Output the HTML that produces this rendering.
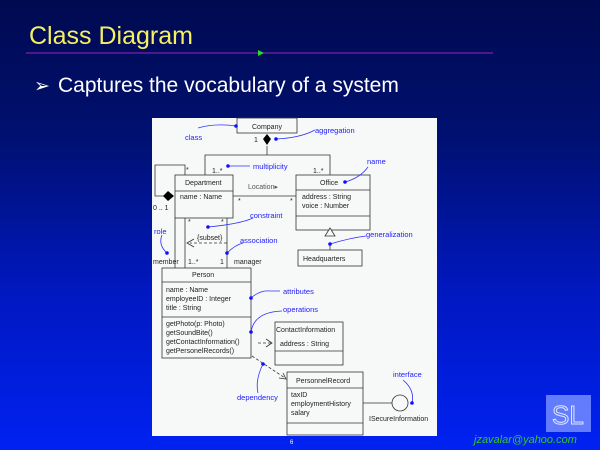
<!DOCTYPE html>
<html><head><meta charset="utf-8"><style>
html,body{margin:0;padding:0;width:600px;height:450px;overflow:hidden}
body{background:linear-gradient(180deg,#000a50 0%,#001070 30%,#0018c0 65%,#0022f2 100%);font-family:"Liberation Sans",sans-serif}
</style></head><body>
<svg width="600" height="450" viewBox="0 0 600 450" xmlns="http://www.w3.org/2000/svg" font-family="Liberation Sans, sans-serif">
<text x="29" y="44" font-size="25" fill="#f6f060">Class Diagram</text>
<line x1="26" y1="53" x2="493" y2="53" stroke="#a020c0" stroke-width="1"/>
<polygon points="258,50 264,53 258,56" fill="#20e020"/>
<text x="34" y="92" font-size="19" fill="#fff">➢</text>
<text x="58" y="92" font-size="21" fill="#fff">Captures the vocabulary of a system</text>
<rect x="152" y="118" width="285" height="318" fill="#f7f8f8"/>
<g stroke="#333" stroke-width="0.8" fill="none">
<rect x="237" y="118" width="60" height="15" fill="#f7f8f8"/>
<line x1="267" y1="146" x2="267" y2="155"/>
<polyline points="205,175 205,155 330,155 330,175"/>
<rect x="175" y="175" width="58" height="43"/>
<line x1="175" y1="191" x2="233" y2="191"/>
<polyline points="173,196 155,196 155,165 185,165 185,175"/>
<line x1="175" y1="218" x2="175" y2="268"/>
<line x1="185" y1="218" x2="185" y2="268" />
<line x1="227" y1="218" x2="227" y2="268"/>
<line x1="233" y1="196" x2="296" y2="196"/>
<rect x="296" y="175" width="74" height="55"/>
<line x1="296" y1="190" x2="370" y2="190"/>
<line x1="296" y1="216" x2="370" y2="216"/>
<line x1="330" y1="243" x2="330" y2="250"/>
<rect x="298" y="250" width="64" height="16"/>
<polyline points="227,243 190,243" stroke-dasharray="3,2"/>
<polyline points="194,239 187,243 194,247"/>
<rect x="162" y="268" width="89" height="90" fill="#f7f8f8"/>
<line x1="162" y1="282" x2="251" y2="282"/>
<line x1="162" y1="317" x2="251" y2="317"/>
<rect x="275" y="322" width="68" height="43"/>
<line x1="275" y1="351" x2="343" y2="351"/>
<line x1="258" y1="343" x2="272" y2="343" stroke-dasharray="3,2"/>
<polyline points="266,339 272,343 266,347"/>
<line x1="252" y1="356" x2="285" y2="378" stroke-dasharray="3,2"/>
<polyline points="279,378 286,379 283,373"/>
<rect x="287" y="372" width="76" height="63"/>
<line x1="287" y1="388" x2="363" y2="388"/>
<line x1="287" y1="423" x2="363" y2="423"/>
<line x1="363" y1="403" x2="392" y2="403"/>
<circle cx="400" cy="403" r="8" fill="#f7f8f8"/>
</g>
<polygon points="267,134 271,139 267,145 263,139" fill="#000"/>
<polygon points="163,196 168,191 174,196 168,201" fill="#000"/>
<polygon points="330,228 335,236 325,236" fill="#f7f8f8" stroke="#333" stroke-width="0.8"/>
<g font-size="7" fill="#222">
<text x="252" y="129">Company</text><text x="254" y="142">1</text>
<text x="212" y="173">1..*</text><text x="313" y="173">1..*</text><text x="186" y="172">*</text>
<text x="185" y="185">Department</text><text x="180" y="199">name : Name</text>
<text x="248" y="189" fill="#555">Location▸</text><text x="238" y="203">*</text><text x="290" y="203">*</text>
<text x="153" y="210">0 .. 1</text>
<text x="320" y="185">Office</text><text x="302" y="199">address : String</text><text x="302" y="208">voice : Number</text>
<text x="303" y="261">Headquarters</text>
<text x="188" y="224">*</text><text x="221" y="224">*</text>
<text x="197" y="240">{subset}</text>
<text x="153" y="264">member</text><text x="188" y="264">1..*</text><text x="220" y="264">1</text><text x="234" y="264">manager</text>
<text x="192" y="277">Person</text>
<text x="166" y="292">name : Name</text><text x="166" y="301">employeeID : Integer</text><text x="166" y="310">title : String</text>
<text x="166" y="326">getPhoto(p: Photo)</text><text x="166" y="335">getSoundBite()</text><text x="166" y="344">getContactInformation()</text><text x="166" y="353">getPersonelRecords()</text>
<text x="276" y="332">ContactInformation</text><text x="280" y="346">address : String</text>
<text x="296" y="383">PersonnelRecord</text>
<text x="291" y="397">taxID</text><text x="291" y="406">employmentHistory</text><text x="291" y="415">salary</text>
<text x="369" y="421">ISecureInformation</text>
</g>
<g stroke="#3030ff" stroke-width="0.8" fill="none">
<path d="M198,128 Q215,123 236,126"/><path d="M276,139 Q300,138 315,130"/>
<path d="M228,166 L250,166"/><path d="M345,182 Q360,178 368,167"/>
<path d="M208,227 Q240,224 253,218"/><path d="M227,253 Q235,245 243,243"/>
<path d="M167,253 Q158,245 162,235"/><path d="M330,244 Q350,238 366,236"/>
<path d="M251,298 Q260,290 270,291 L280,291"/><path d="M251,332 Q254,312 282,311"/>
<path d="M263,364 Q255,380 258,393"/><path d="M412,403 Q415,390 403,380"/>
</g>
<g fill="#1010ff">
<circle cx="236" cy="126" r="1.8"/><circle cx="276" cy="139" r="1.8"/><circle cx="228" cy="166" r="1.8"/>
<circle cx="345" cy="182" r="1.8"/><circle cx="208" cy="227" r="1.8"/><circle cx="227" cy="253" r="1.8"/>
<circle cx="167" cy="253" r="1.8"/><circle cx="330" cy="244" r="1.8"/><circle cx="251" cy="298" r="1.8"/>
<circle cx="251" cy="332" r="1.8"/><circle cx="263" cy="364" r="1.8"/><circle cx="412" cy="403" r="1.8"/>
</g>
<g font-size="7.5" fill="#2020ff">
<text x="185" y="140">class</text><text x="315" y="133">aggregation</text><text x="253" y="169">multiplicity</text>
<text x="367" y="164">name</text><text x="250" y="218">constraint</text><text x="366" y="237">generalization</text>
<text x="240" y="243">association</text><text x="154" y="234">role</text><text x="283" y="294">attributes</text>
<text x="283" y="312">operations</text><text x="237" y="400">dependency</text><text x="393" y="377">interface</text>
</g>
<text x="290" y="444" font-size="6" fill="#fff">6</text>
<rect x="546" y="395" width="45" height="37" fill="#6e86ff" opacity="0.9"/>
<text x="552" y="424" font-size="26" fill="none" stroke="#dfe6ff" stroke-width="1">SL</text>
<text x="474" y="443" font-size="11" font-style="italic" fill="#33cc22">jzavalar@yahoo.com</text>
</svg>
</body></html>
